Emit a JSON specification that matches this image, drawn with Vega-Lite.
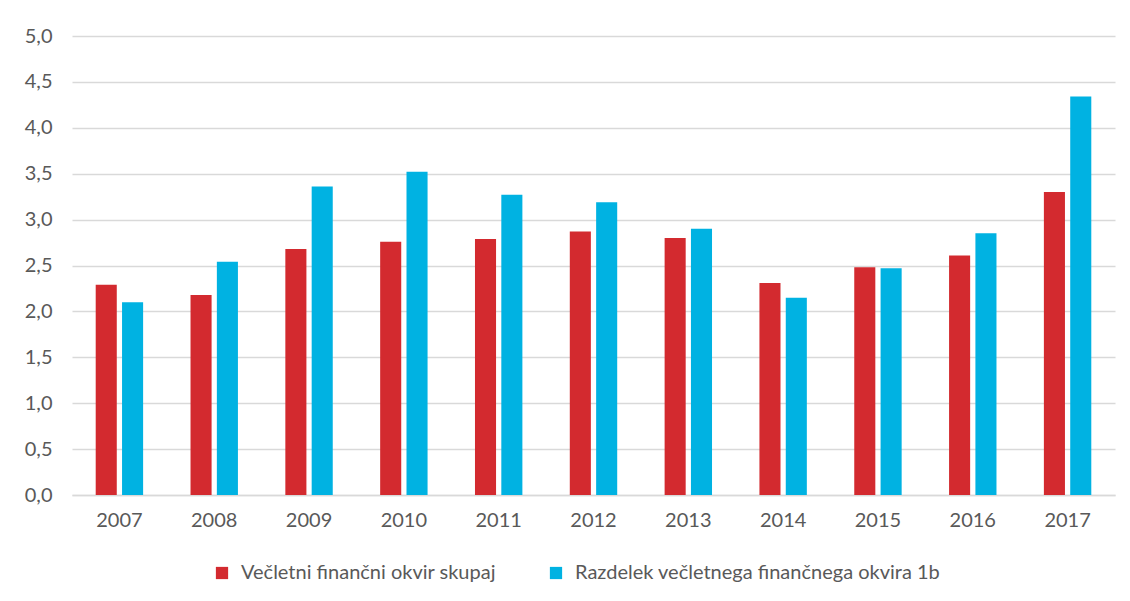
{
  "$schema": "https://vega.github.io/schema/vega-lite/v6.json",
  "autosize": {"type": "none"},
  "width": 1043,
  "height": 459,
  "padding": {"left": 72, "top": 36, "right": 15, "bottom": 106},
  "background": "white",
  "config": {
    "locale": {"number": {"decimal": ",", "thousands": ".", "grouping": [3], "currency": ["", " €"]}},
    "view": {"stroke": null},
    "font": "Lato",
    "axis": {"labelFont": "Lato", "labelColor": "#595959", "labelFontSize": 20, "title": null},
    "legend": {"labelFont": "Lato", "labelColor": "#595959", "labelFontSize": 20}
  },
  "data": {
    "values": [
      {"leto": "2007", "serija": "Večletni finančni okvir skupaj", "vrednost": 2.29},
      {"leto": "2007", "serija": "Razdelek večletnega finančnega okvira 1b", "vrednost": 2.10},
      {"leto": "2008", "serija": "Večletni finančni okvir skupaj", "vrednost": 2.18},
      {"leto": "2008", "serija": "Razdelek večletnega finančnega okvira 1b", "vrednost": 2.54},
      {"leto": "2009", "serija": "Večletni finančni okvir skupaj", "vrednost": 2.68},
      {"leto": "2009", "serija": "Razdelek večletnega finančnega okvira 1b", "vrednost": 3.36},
      {"leto": "2010", "serija": "Večletni finančni okvir skupaj", "vrednost": 2.76},
      {"leto": "2010", "serija": "Razdelek večletnega finančnega okvira 1b", "vrednost": 3.52},
      {"leto": "2011", "serija": "Večletni finančni okvir skupaj", "vrednost": 2.79},
      {"leto": "2011", "serija": "Razdelek večletnega finančnega okvira 1b", "vrednost": 3.27},
      {"leto": "2012", "serija": "Večletni finančni okvir skupaj", "vrednost": 2.87},
      {"leto": "2012", "serija": "Razdelek večletnega finančnega okvira 1b", "vrednost": 3.19},
      {"leto": "2013", "serija": "Večletni finančni okvir skupaj", "vrednost": 2.80},
      {"leto": "2013", "serija": "Razdelek večletnega finančnega okvira 1b", "vrednost": 2.90},
      {"leto": "2014", "serija": "Večletni finančni okvir skupaj", "vrednost": 2.31},
      {"leto": "2014", "serija": "Razdelek večletnega finančnega okvira 1b", "vrednost": 2.15},
      {"leto": "2015", "serija": "Večletni finančni okvir skupaj", "vrednost": 2.48},
      {"leto": "2015", "serija": "Razdelek večletnega finančnega okvira 1b", "vrednost": 2.47},
      {"leto": "2016", "serija": "Večletni finančni okvir skupaj", "vrednost": 2.61},
      {"leto": "2016", "serija": "Razdelek večletnega finančnega okvira 1b", "vrednost": 2.85},
      {"leto": "2017", "serija": "Večletni finančni okvir skupaj", "vrednost": 3.30},
      {"leto": "2017", "serija": "Razdelek večletnega finančnega okvira 1b", "vrednost": 4.34}
    ]
  },
  "mark": {"type": "bar"},
  "encoding": {
    "x": {
      "field": "leto", "type": "nominal",
      "scale": {"paddingInner": 0.5, "paddingOuter": 0.25},
      "axis": {"labelAngle": 0, "ticks": false, "domainColor": "#d9d9d9", "domainWidth": 1.5, "labelPadding": 15}
    },
    "xOffset": {
      "field": "serija", "type": "nominal",
      "sort": ["Večletni finančni okvir skupaj", "Razdelek večletnega finančnega okvira 1b"],
      "scale": {"paddingInner": 0.2, "paddingOuter": 0}
    },
    "y": {
      "field": "vrednost", "type": "quantitative",
      "scale": {"domain": [0, 5], "nice": false},
      "axis": {"values": [0, 0.5, 1, 1.5, 2, 2.5, 3, 3.5, 4, 4.5, 5], "format": ".1f", "ticks": false, "domain": false, "gridColor": "#d9d9d9", "gridWidth": 1.5, "labelPadding": 20}
    },
    "color": {
      "field": "serija", "type": "nominal",
      "sort": ["Večletni finančni okvir skupaj", "Razdelek večletnega finančnega okvira 1b"],
      "scale": {"range": ["#D32A2F", "#00B2E2"]},
      "legend": {"title": null, "orient": "none", "direction": "horizontal", "legendX": 140, "legendY": 527, "symbolType": "square", "symbolSize": 150, "symbolStrokeWidth": 0, "labelOffset": 9, "columnPadding": 50, "labelLimit": 500}
    }
  }
}
